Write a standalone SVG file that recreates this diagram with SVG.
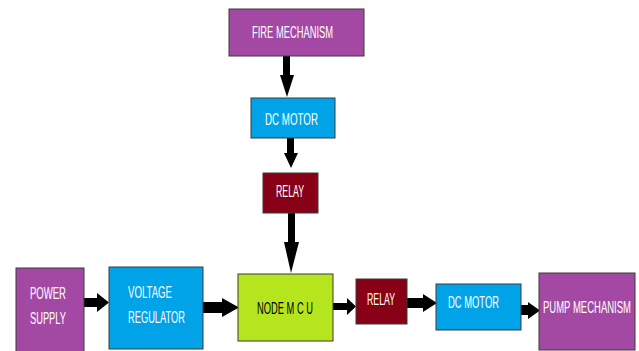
<svg xmlns="http://www.w3.org/2000/svg" width="639" height="351" viewBox="0 0 639 351">
<style>
.box{stroke:#3a3a3a;stroke-width:1}
.purple{fill:#A349A4}
.blue{fill:#00A2E8}
.red{fill:#880015}
.green{fill:#B5E61D}
.t{font-family:"Liberation Sans",Arial,sans-serif;font-size:16px;fill:#ffffff}
.dark{fill:#000000}
.arrow{fill:#000000}
</style>
<rect width="639" height="351" fill="#ffffff"/>
<g id="connectors">
<polygon class="arrow" points="283,56 290,56 290,75 294,75 287,97 280,75 283,75"/>
<polygon class="arrow" points="287,138 294,138 294,153 298,153 291,168 284,153 287,153"/>
<polygon class="arrow" points="288,213 295,213 295,242 299,242 291,273 284,242 288,242"/>
<polygon class="arrow" points="84,298 97,298 97,293 109,302.5 97,312 97,307 84,307"/>
<polygon class="arrow" points="203,302 222,302 222,298 239,307.5 222,317 222,313 203,313"/>
<polygon class="arrow" points="333,303 347,303 347,298 356,306.5 347,315 347,310 333,310"/>
<polygon class="arrow" points="407,298 423,298 423,294 437,303 423,312 423,308 407,308"/>
<polygon class="arrow" points="521,305 528,305 528,302 540,310.5 528,319 528,315 521,315"/>
</g>
<g id="fire-mechanism">
<rect class="box purple" x="229" y="9" width="135" height="47"/>
<text class="t" x="252" y="38" textLength="81" lengthAdjust="spacingAndGlyphs">FIRE MECHANISM</text>
</g>
<g id="dc-motor-top">
<rect class="box blue" x="251" y="98" width="84" height="40"/>
<text class="t" x="265" y="125" textLength="53" lengthAdjust="spacingAndGlyphs">DC MOTOR</text>
</g>
<g id="relay-top">
<rect class="box red" x="263" y="173" width="55" height="40"/>
<text class="t" x="276" y="197" textLength="28" lengthAdjust="spacingAndGlyphs">RELAY</text>
</g>
<g id="power-supply">
<rect class="box purple" x="16" y="268" width="68" height="85"/>
<text class="t" x="30" y="299" textLength="36" lengthAdjust="spacingAndGlyphs">POWER</text>
<text class="t" x="30" y="324" textLength="36" lengthAdjust="spacingAndGlyphs">SUPPLY</text>
</g>
<g id="voltage-regulator">
<rect class="box blue" x="109" y="267" width="94" height="82"/>
<text class="t" x="128" y="298" textLength="44" lengthAdjust="spacingAndGlyphs">VOLTAGE</text>
<text class="t" x="128" y="323" textLength="57" lengthAdjust="spacingAndGlyphs">REGULATOR</text>
</g>
<g id="node-mcu">
<rect class="box green" x="238" y="274" width="95" height="67"/>
<text class="t dark" x="257" y="314" textLength="56" lengthAdjust="spacingAndGlyphs">NODE M C U</text>
</g>
<g id="relay-bottom">
<rect class="box red" x="356" y="279" width="51" height="45"/>
<text class="t" x="367" y="305" textLength="28" lengthAdjust="spacingAndGlyphs">RELAY</text>
</g>
<g id="dc-motor-bottom">
<rect class="box blue" x="436" y="284" width="85" height="46"/>
<text class="t" x="448" y="308" textLength="51" lengthAdjust="spacingAndGlyphs">DC MOTOR</text>
</g>
<g id="pump-mechanism">
<rect class="box purple" x="539" y="273" width="96" height="77"/>
<text class="t" transform="translate(543,313) scale(0.5946,1)" x="0" y="0" textLength="148" lengthAdjust="spacingAndGlyphs">PUMP MECHANISM</text>
</g>
</svg>
